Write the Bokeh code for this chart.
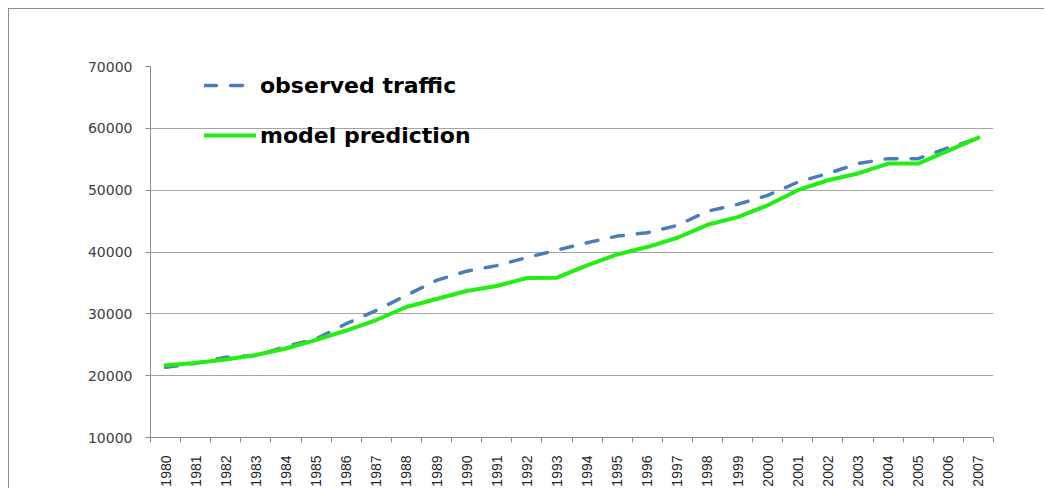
from math import pi
from bokeh.plotting import figure
from bokeh.models import Range1d, FixedTicker, Legend, LegendItem, CustomJSTickFormatter
from bokeh.embed import file_html
from bokeh.resources import INLINE

years = list(range(1980, 2008))
observed = [21350, 22000, 22970, 23250, 24700, 25950, 28400, 30540, 33000, 35400,
            36900, 37800, 39100, 40300, 41500, 42570, 43120, 44300, 46600, 47700,
            49160, 51300, 52700, 54300, 55100, 55100, 56880, 58400]
predicted = [21700, 22050, 22600, 23350, 24400, 25800, 27300, 29000, 31100, 32400,
             33700, 34500, 35800, 35850, 37830, 39600, 40800, 42300, 44400, 45650,
             47550, 50000, 51600, 52700, 54300, 54300, 56400, 58500]
y_ticks = [10000, 20000, 30000, 40000, 50000, 60000, 70000]

p = figure(width=1036, height=480, output_backend="svg", toolbar_location=None,
           x_range=Range1d(years[0] - 0.5, years[-1] + 0.5),
           y_range=Range1d(y_ticks[0], y_ticks[-1]),
           min_border_left=141, min_border_top=57, min_border_right=52, min_border_bottom=52)
p.styles = {"border-top": "1px solid #8c8c8c", "border-left": "1px solid #8c8c8c",
            "margin-left": "8px", "margin-top": "8px"}
p.outline_line_color = None
p.background_fill_color = "white"

# axes
p.xaxis.ticker = FixedTicker(ticks=years, minor_ticks=[y - 0.5 for y in years] + [years[-1] + 0.5])
p.xaxis.major_tick_line_color = None
p.xaxis.minor_tick_line_color = "#8c8c8c"
p.xaxis.minor_tick_out = 5
p.xaxis.minor_tick_in = 0
p.xaxis.major_label_orientation = pi / 2
p.xaxis.major_label_text_font = "Liberation Sans"
p.xaxis.major_label_text_font_size = "14px"
p.xaxis.major_label_text_color = "#262626"
p.xaxis.major_label_standoff = 12
p.xaxis.axis_line_color = "#8c8c8c"
p.xaxis.formatter = CustomJSTickFormatter(code="return tick.toFixed(0);")

p.yaxis.ticker = FixedTicker(ticks=y_ticks)
p.yaxis.minor_tick_line_color = None
p.yaxis.major_tick_line_color = "#8c8c8c"
p.yaxis.major_tick_out = 5
p.yaxis.major_tick_in = 0
p.yaxis.axis_line_color = "#8c8c8c"
p.yaxis.major_label_text_font = "DejaVu Sans"
p.yaxis.major_label_text_font_size = "14px"
p.yaxis.major_label_text_color = "#404040"
p.yaxis.major_label_standoff = 13
p.yaxis.formatter = CustomJSTickFormatter(code="return tick.toFixed(0);")

p.xgrid.grid_line_color = None
p.ygrid.ticker = FixedTicker(ticks=y_ticks)
p.ygrid.grid_line_color = "#a6a6a6"
p.ygrid.grid_line_width = 1

r_obs = p.line(years, observed, line_color="#4a7ebb", line_width=3.5,
               line_dash="12 14", line_cap="round")
r_pred = p.line(years, predicted, line_color="#22ee11", line_width=4,
                line_join="round", line_cap="round")

legend = Legend(items=[LegendItem(label="observed traffic", renderers=[r_obs]),
                       LegendItem(label="model prediction", renderers=[r_pred])],
                location="top_left")
legend.background_fill_alpha = 0
legend.border_line_color = None
legend.label_text_font = "DejaVu Sans"
legend.label_text_font_style = "bold"
legend.label_text_font_size = "22px"
legend.label_text_color = "#000000"
legend.glyph_width = 52
legend.glyph_height = 30
legend.spacing = 20
legend.label_standoff = 4
legend.margin = 0
legend.padding = 5
legend.location = (54, 287)
p.add_layout(legend)

open("out.html", "w").write(file_html(p, INLINE))
